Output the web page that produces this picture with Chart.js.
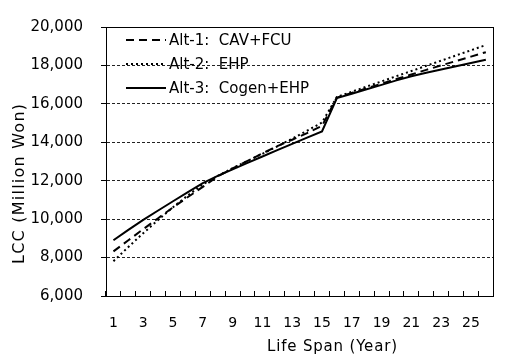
<!DOCTYPE html>
<html>
<head>
<meta charset="utf-8">
<script src="https://cdn.jsdelivr.net/npm/chart.js@4"></script>
<style>
html,body{margin:0;padding:0;background:#fff;}
#wrap{width:510px;height:359px;position:relative;}
</style>
</head>
<body>
<div id="wrap"><canvas id="c" width="510" height="359"></canvas></div>
<script>
const years = ['1','2','3','4','5','6','7','8','9','10','11','12','13','14','15','16','17','18','19','20','21','22','23','24','25','26'];
const seriesNames = ['Alt-1:  CAV+FCU', 'Alt-2:  EHP', 'Alt-3:  Cogen+EHP'];
const alt1 = [8320, 8900, 9480, 10050, 10610, 11150, 11680, 12220, 12640, 13030, 13420, 13800, 14130, 14480, 14850, 16330, 16570, 16810, 17050, 17290, 17530, 17770, 18000, 18230, 18460, 18690];
const alt2 = [7810, 8550, 9270, 9960, 10620, 11240, 11800, 12250, 12650, 13030, 13400, 13790, 14190, 14600, 15030, 16360, 16630, 16900, 17170, 17440, 17710, 17980, 18250, 18520, 18790, 19060];
const alt3 = [8900, 9440, 9960, 10450, 10930, 11410, 11880, 12250, 12590, 12930, 13260, 13590, 13920, 14240, 14560, 16300, 16530, 16760, 16990, 17220, 17440, 17620, 17790, 17960, 18130, 18300];
const yTicks = [6000, 8000, 10000, 12000, 14000, 16000, 18000, 20000];
const xTitle = 'Life Span (Year)';
const yTitle = 'LCC (Million Won)';

const FONT = 'DejaVu Sans';

function spacedText(ctx, text, cx, cy, targetWidth) {
  ctx.letterSpacing = '0px';
  const natural = ctx.measureText(text).width;
  const n = text.length;
  const sp = Math.max(0, (targetWidth - natural) / (n - 1));
  ctx.letterSpacing = sp + 'px';
  ctx.textAlign = 'left';
  ctx.fillText(text, cx - Math.max(targetWidth, natural) / 2, cy);
  ctx.letterSpacing = '0px';
}

const frameAndText = {
  id: 'frameAndText',
  afterDraw(chart) {
    const ctx = chart.ctx, a = chart.chartArea;
    ctx.save();
    ctx.strokeStyle = '#000';
    ctx.lineWidth = 1;
    ctx.setLineDash([]);
    ctx.strokeRect(Math.round(a.left) + 0.5, Math.round(a.top) + 0.5, Math.round(a.right - a.left), Math.round(a.bottom - a.top));
    // legend
    const rows = [40, 64, 88];
    ctx.font = '15px ' + FONT;
    ctx.textBaseline = 'middle';
    ctx.fillStyle = '#000';
    chart.data.datasets.forEach((ds, i) => {
      const y = rows[i];
      ctx.beginPath();
      ctx.lineWidth = 2;
      ctx.setLineDash(ds.borderDash || []);
      ctx.moveTo(126, y);
      ctx.lineTo(166, y);
      ctx.stroke();
      ctx.setLineDash([]);
      ctx.fillText(ds.label, 169, y + 1);
    });
    // axis titles
    ctx.font = '15px ' + FONT;
    spacedText(ctx, xTitle, 332, 347, 130);
    ctx.font = '16px ' + FONT;
    ctx.translate(20, 184);
    ctx.rotate(-Math.PI / 2);
    spacedText(ctx, yTitle, 0, 0, 160);
    ctx.restore();
  }
};

new Chart(document.getElementById('c'), {
  type: 'line',
  data: {
    labels: years,
    datasets: [
      { label: seriesNames[0], data: alt1, borderColor: '#000', borderWidth: 2, borderDash: [8, 5], pointRadius: 0, tension: 0, fill: false },
      { label: seriesNames[1], data: alt2, borderColor: '#000', borderWidth: 2, borderDash: [2, 3], pointRadius: 0, tension: 0, fill: false },
      { label: seriesNames[2], data: alt3, borderColor: '#000', borderWidth: 2, borderDash: [], pointRadius: 0, tension: 0, fill: false }
    ]
  },
  options: {
    responsive: false,
    animation: false,
    devicePixelRatio: 1,
    layout: { padding: { left: 0, right: 8, top: 18, bottom: 0 } },
    plugins: { legend: { display: false }, tooltip: { enabled: false } },
    scales: {
      x: {
        type: 'category',
        offset: true,
        grid: { offset: true, drawOnChartArea: false, drawTicks: true, tickLength: -5, tickColor: '#000', color: '#000' },
        border: { display: true, color: '#000', width: 1 },
        ticks: {
          autoSkip: false, maxRotation: 0, minRotation: 0, padding: 24, color: '#000',
          font: { family: FONT, size: 14 },
          callback: function (v, i) { return (i % 2 === 0) ? years[i] : ''; }
        },
        afterFit(s) { s.height = 63; }
      },
      y: {
        min: 6000, max: 20000,
        afterBuildTicks(s) { s.ticks = yTicks.map(v => ({ value: v })); },
        grid: { color: '#222', lineWidth: 1, drawTicks: true, tickLength: 5, tickColor: '#000', tickBorderDash: [] },
        border: { display: true, color: '#000', width: 1, dash: [3, 2] },
        ticks: {
          padding: 18, color: '#000',
          font: { family: FONT, size: 15 },
          callback: v => v.toLocaleString('en-US')
        },
        afterFit(s) { s.width = 106; }
      }
    }
  },
  plugins: [frameAndText]
});
</script>
</body>
</html>
